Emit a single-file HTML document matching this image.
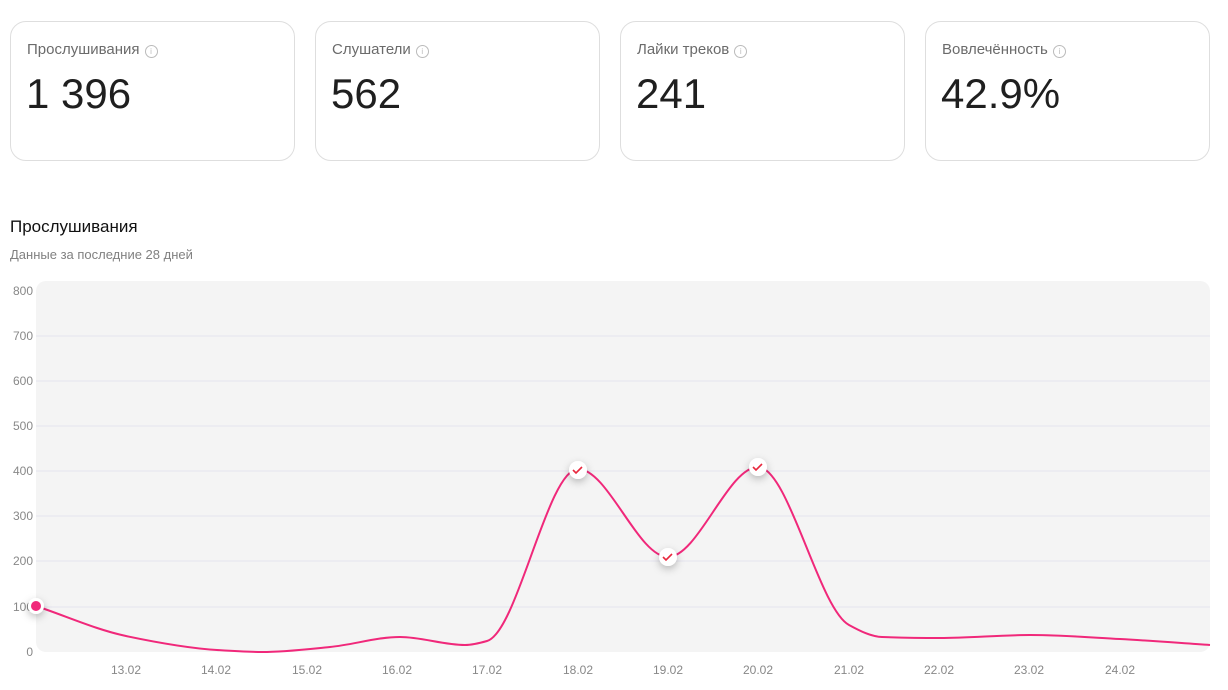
<!DOCTYPE html>
<html><head><meta charset="utf-8"><style>
body{margin:0;width:1228px;height:690px;background:#fff;font-family:"Liberation Sans",sans-serif;position:relative;overflow:hidden}
.card{position:absolute;top:21px;width:285px;height:140px;border:1px solid #dedede;border-radius:16px;box-sizing:border-box}
.card .t{position:absolute;left:16px;top:19px;font-size:15px;color:#6b6b6b}
.card .t i{display:inline-block;width:11px;height:11px;border:1px solid #bbb;border-radius:50%;margin-left:5px;vertical-align:0px;font-style:normal;font-size:8px;line-height:11px;text-align:center;color:#bbb}
.card .v{position:absolute;left:15px;top:48px;font-size:42px;color:#1f1f1f}
</style></head><body>
<div class="card" style="left:10px"><div class="t">Прослушивания<i>i</i></div><div class="v">1 396</div></div>
<div class="card" style="left:315px"><div class="t">Слушатели<i>i</i></div><div class="v">562</div></div>
<div class="card" style="left:620px"><div class="t">Лайки треков<i>i</i></div><div class="v">241</div></div>
<div class="card" style="left:925px"><div class="t">Вовлечённость<i>i</i></div><div class="v">42.9%</div></div>
<div style="position:absolute;left:10px;top:217px;font-size:17px;color:#111">Прослушивания</div>
<div style="position:absolute;left:10px;top:247px;font-size:13px;color:#808080">Данные за последние 28 дней</div>
<svg id="c" width="1228" height="690" style="position:absolute;left:0;top:0" xmlns="http://www.w3.org/2000/svg">
<defs><filter id="sh" x="-1" y="-1" width="3" height="3"><feDropShadow dx="0" dy="3" stdDeviation="4" flood-color="#000" flood-opacity="0.25"/></filter></defs>
<rect x="36" y="281" width="1174" height="371" rx="10" fill="#f4f4f4"/>
<g stroke="#e4e3ee" stroke-width="1">
<line x1="36" x2="1210" y1="336" y2="336"/><line x1="36" x2="1210" y1="381" y2="381"/><line x1="36" x2="1210" y1="426" y2="426"/><line x1="36" x2="1210" y1="471" y2="471"/><line x1="36" x2="1210" y1="516" y2="516"/><line x1="36" x2="1210" y1="561" y2="561"/><line x1="36" x2="1210" y1="607" y2="607"/>
</g>
<g font-size="12" fill="#888" text-anchor="end">
<text x="33" y="295">800</text><text x="33" y="340">700</text><text x="33" y="385">600</text><text x="33" y="430">500</text><text x="33" y="475">400</text><text x="33" y="520">300</text><text x="33" y="565">200</text><text x="33" y="611">100</text><text x="33" y="656">0</text>
</g>
<g font-size="12" fill="#888" text-anchor="middle">
<text x="126" y="674">13.02</text><text x="216" y="674">14.02</text><text x="307" y="674">15.02</text><text x="397" y="674">16.02</text><text x="487" y="674">17.02</text><text x="578" y="674">18.02</text><text x="668" y="674">19.02</text><text x="758" y="674">20.02</text><text x="849" y="674">21.02</text><text x="939" y="674">22.02</text><text x="1029" y="674">23.02</text><text x="1120" y="674">24.02</text>
</g>
<path id="ln" fill="none" stroke="#f0287a" stroke-width="2"/>
<g filter="url(#sh)">
<circle cx="36" cy="606" r="8" fill="#fff"/><circle cx="578" cy="470" r="9" fill="#fff"/><circle cx="668" cy="557" r="9" fill="#fff"/><circle cx="758" cy="467" r="9" fill="#fff"/>
</g>
<circle cx="36" cy="606" r="5" fill="#f0287a"/>
<g fill="none" stroke="#e8283e" stroke-width="1.6"><path d="M573 470l3 3 6-6"/><path d="M663 557l3 3 6-6"/><path d="M753 467l3 3 6-6"/></g>
</svg>
<script>
var p=[[36,606],[126,636],[217,650],[262,652],[330,647],[400,637],[465,645],[487,641],[578,469],[668,557],[758,467],[849,625],[882,637],[940,638],[1030,635],[1120,639],[1210,645]];
var n=p.length,s=[],m=[];
for(var i=0;i<n-1;i++)s.push((p[i+1][1]-p[i][1])/(p[i+1][0]-p[i][0]));
m[0]=s[0];m[n-1]=s[n-2];
for(i=1;i<n-1;i++){if(s[i-1]*s[i]<=0)m[i]=0;else{var h0=p[i][0]-p[i-1][0],h1=p[i+1][0]-p[i][0];m[i]=3*(h0+h1)/((2*h1+h0)/s[i-1]+(h1+2*h0)/s[i]);}}
var d="M"+p[0][0]+" "+p[0][1];
for(i=0;i<n-1;i++){var h=(p[i+1][0]-p[i][0])/3;
d+=" C"+(p[i][0]+h)+" "+(p[i][1]+m[i]*h)+" "+(p[i+1][0]-h)+" "+(p[i+1][1]-m[i+1]*h)+" "+p[i+1][0]+" "+p[i+1][1];}
document.getElementById("ln").setAttribute("d",d);
</script>
</body></html>
